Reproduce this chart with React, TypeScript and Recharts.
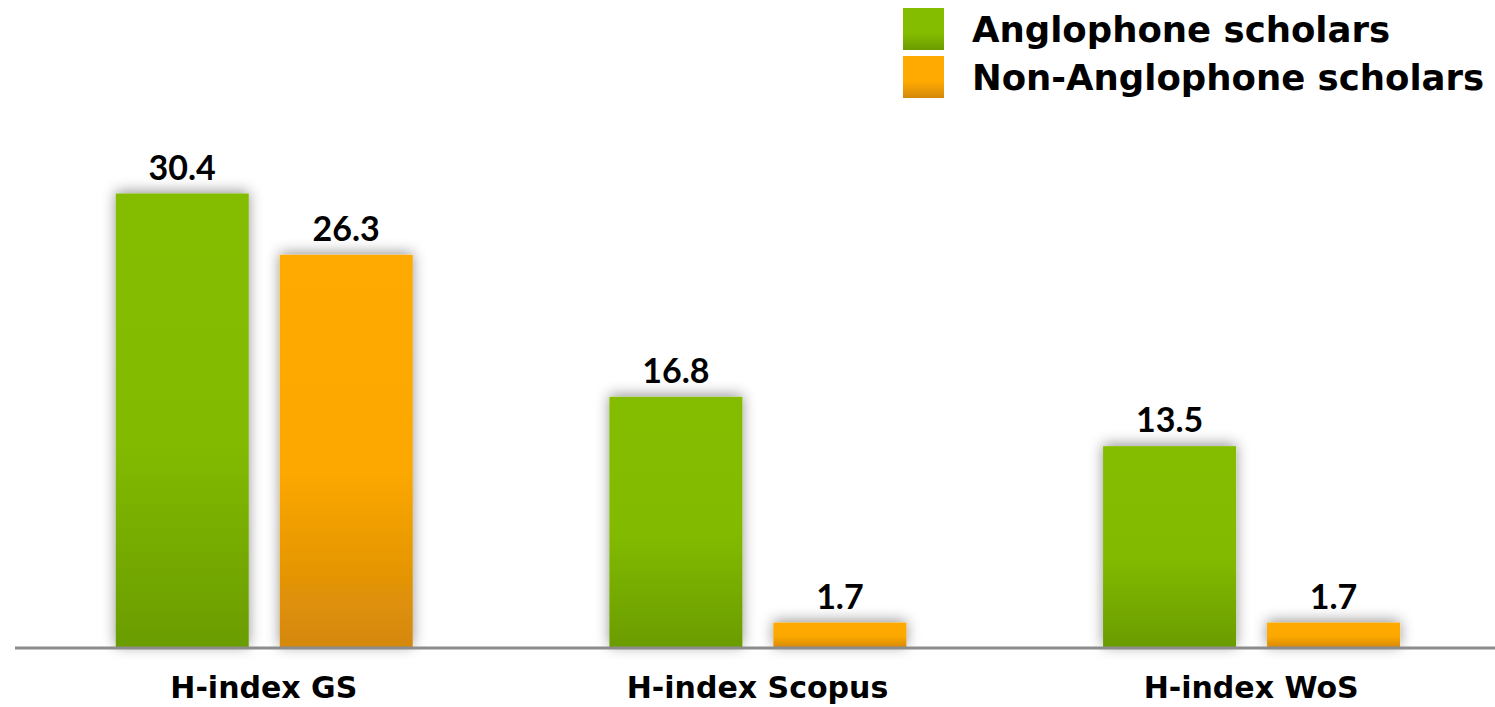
import React from 'react';
import { BarChart, Bar, XAxis, YAxis, LabelList } from 'recharts';

const categories = ['H-index GS', 'H-index Scopus', 'H-index WoS'];
const anglophone = [30.4, 16.8, 13.5];
const nonAnglophone = [26.3, 1.7, 1.7];
const seriesNames = ['Anglophone scholars', 'Non-Anglophone scholars'];

const data = categories.map((name, i) => ({
    name,
    anglo: anglophone[i],
    nonAnglo: nonAnglophone[i],
}));

const TEXT_FONT = '"DejaVu Sans", Lato, sans-serif';
const NUM_FONT = 'Lato, "DejaVu Sans", sans-serif';

const ShadowBar = (props: any) => {
    const { x, y, width, height, fill } = props;
    if (!height || height <= 0) return null;
    return <rect x={x} y={y} width={width} height={height} fill={fill} filter="url(#barShadow)" />;
};

// legend drawn as an overlay so it doesn't eat plot space
const LegendBox = () => (
    <div
        style={{
            position: 'absolute',
            left: 903,
            top: 8,
            fontFamily: TEXT_FONT,
            fontWeight: 700,
            fontSize: 35.5,
            color: '#000',
            whiteSpace: 'nowrap',
        }}
    >
        {seriesNames.map((n, i) => (
            <div key={n} style={{ display: 'flex', alignItems: 'center', height: 42, marginBottom: 6 }}>
                <div
                    style={{
                        width: 41,
                        height: 42,
                        marginRight: 28,
                        background: i === 0
                            ? 'linear-gradient(#84bd00 0%, #84bd00 60%, #6b9c00 100%)'
                            : 'linear-gradient(#ffaa00 0%, #ffaa00 60%, #d4880a 100%)',
                    }}
                />
                <span>{n}</span>
            </div>
        ))}
    </div>
);

export default function App() {
    return (
        <div style={{ position: 'fixed', left: 0, top: 0, width: 1495, height: 707, overflow: 'hidden', background: '#fff' }}>
            <BarChart
                width={1500}
                height={707}
                data={data}
                margin={{ top: 50, right: 2, bottom: 0, left: 15 }}
                barCategoryGap="20%"
                barGap={31}
            >
                <defs>
                    <linearGradient id="greenGrad" x1="0" y1="0" x2="0" y2="1">
                        <stop offset="0%" stopColor="#84bd00" />
                        <stop offset="55%" stopColor="#82ba00" />
                        <stop offset="100%" stopColor="#6a9c00" />
                    </linearGradient>
                    <linearGradient id="orangeGrad" x1="0" y1="0" x2="0" y2="1">
                        <stop offset="0%" stopColor="#ffaa00" />
                        <stop offset="55%" stopColor="#fca800" />
                        <stop offset="100%" stopColor="#d4880a" />
                    </linearGradient>
                    <filter id="barShadow" filterUnits="userSpaceOnUse" x="0" y="0" width="1500" height="707">
                        <feDropShadow dx="0" dy="-2" stdDeviation="7" floodColor="#000" floodOpacity="0.42" />
                    </filter>
                </defs>
                <XAxis
                    dataKey="name"
                    padding={{ left: 2, right: 0 }}
                    axisLine={{ stroke: '#8c8c8c', strokeWidth: 3 }}
                    tickLine={false}
                    tickSize={0}
                    tickMargin={29}
                    height={59}
                    tick={{ fill: '#000', fontSize: 30, fontWeight: 700, fontFamily: TEXT_FONT }}
                />
                <YAxis hide domain={[0, 40]} />
                <Bar dataKey="anglo" name={seriesNames[0]} fill="url(#greenGrad)" shape={ShadowBar} isAnimationActive={false}>
                    <LabelList dataKey="anglo" position="top" offset={14} fill="#000" fontSize={34} fontWeight={700} fontFamily={NUM_FONT} />
                </Bar>
                <Bar dataKey="nonAnglo" name={seriesNames[1]} fill="url(#orangeGrad)" shape={ShadowBar} isAnimationActive={false}>
                    <LabelList dataKey="nonAnglo" position="top" offset={14} fill="#000" fontSize={34} fontWeight={700} fontFamily={NUM_FONT} />
                </Bar>
            </BarChart>
            <LegendBox />
        </div>
    );
}
